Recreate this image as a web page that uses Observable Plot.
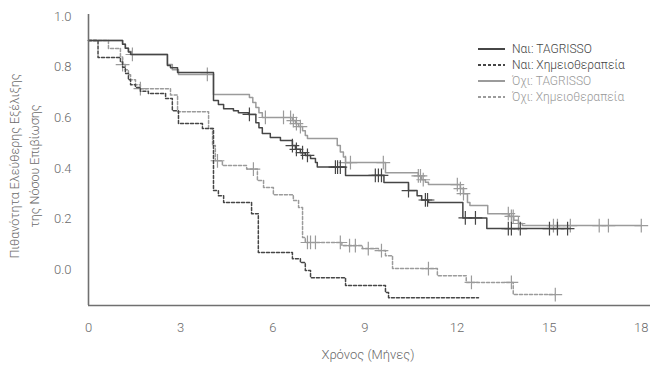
<!DOCTYPE html>
<html><head><meta charset="utf-8">
<script src="https://cdn.jsdelivr.net/npm/d3@7"></script>
<script src="https://cdn.jsdelivr.net/npm/@observablehq/plot@0.6"></script>
<style>
body{margin:0;background:#fff;font-family:Roboto,"DejaVu Sans",sans-serif;}
#wrap{position:relative;width:650px;height:365px;}
#legend{position:absolute;left:477px;top:41px;font-size:12px;font-weight:300;}
#legend .row{display:flex;align-items:center;height:16px;}
#legend svg{width:29px;height:16px;margin-right:6px;}
</style></head><body><div id="wrap"></div>
<script>
const xTicks = [0, 3, 6, 9, 12, 15, 18];
const yTicks = [0, 0.2, 0.4, 0.6, 0.8, 1.0];
const seriesNames = ["Ναι: TAGRISSO", "Ναι: Χημειοθεραπεία", "Όχι: TAGRISSO", "Όχι: Χημειοθεραπεία"];
const xTitle = "Χρόνος (Μήνες)";
const yTitle1 = "Πιθανότητα Ελεύθερης Εξέλιξης";
const yTitle2 = "της Νόσου Επιβίωσης";

// Ναι: TAGRISSO
const naiTagT = [0, 1.11, 1.20, 1.30, 1.37, 2.57, 2.67, 2.90, 4.07, 4.23, 4.40, 4.72, 4.88, 5.21, 5.45, 5.55, 5.66, 5.92, 6.25, 6.64, 6.74, 6.90, 7.06, 7.23, 7.39, 7.45, 8.37, 9.62, 10.42, 10.70, 10.85, 11.07, 12.19, 12.97, 15.69];
const naiTagS = [0.905, 0.89, 0.875, 0.86, 0.85, 0.806, 0.798, 0.779, 0.668, 0.652, 0.636, 0.628, 0.62, 0.613, 0.58, 0.56, 0.538, 0.522, 0.51, 0.49, 0.475, 0.462, 0.451, 0.439, 0.423, 0.405, 0.372, 0.344, 0.312, 0.292, 0.275, 0.265, 0.204, 0.162, 0.162];
const naiTagCens = [5.24, 6.64, 6.77, 6.97, 7.13, 8.04, 8.11, 8.20, 9.34, 9.44, 9.54, 10.42, 10.97, 11.04, 12.27, 12.60, 13.67, 13.77, 14.06, 15.01, 15.27, 15.60];

// Ναι: Χημειοθεραπεία
const naiChemoT = [0, 0.31, 1.04, 1.11, 1.20, 1.30, 1.37, 1.53, 1.69, 1.95, 2.51, 2.73, 2.93, 3.71, 4.07, 4.23, 4.40, 5.31, 5.53, 6.64, 6.90, 7.06, 7.23, 8.37, 9.67, 9.77, 12.70];
const naiChemoS = [0.905, 0.838, 0.82, 0.80, 0.775, 0.75, 0.73, 0.72, 0.705, 0.696, 0.676, 0.628, 0.577, 0.557, 0.312, 0.292, 0.265, 0.221, 0.067, 0.043, 0.028, -0.004, -0.032, -0.063, -0.091, -0.111, -0.111];
const naiChemoCens = [];

// Όχι: TAGRISSO
const ochiTagT = [0, 1.11, 1.20, 1.30, 1.40, 2.57, 2.73, 2.93, 4.07, 5.24, 5.35, 5.45, 5.55, 5.66, 6.64, 6.74, 6.84, 6.97, 7.06, 7.13, 8.10, 8.20, 8.30, 8.37, 9.67, 10.74, 10.85, 10.97, 11.07, 12.11, 12.21, 12.34, 12.42, 13.00, 13.70, 13.85, 14.00, 14.13, 18.0];
const ochiTagS = [0.905, 0.89, 0.875, 0.862, 0.85, 0.81, 0.79, 0.771, 0.692, 0.68, 0.66, 0.64, 0.62, 0.601, 0.589, 0.577, 0.565, 0.549, 0.53, 0.518, 0.49, 0.465, 0.445, 0.423, 0.383, 0.37, 0.355, 0.345, 0.336, 0.32, 0.30, 0.265, 0.253, 0.221, 0.21, 0.195, 0.182, 0.174, 0.174];
const ochiTagCens = [1.43, 3.87, 5.76, 6.35, 6.58, 6.67, 6.77, 6.90, 8.37, 8.53, 9.60, 10.74, 10.81, 10.90, 12.01, 12.11, 12.21, 13.67, 13.77, 13.83, 14.00, 15.14, 15.27, 15.69, 16.63, 16.93, 18.0];

// Όχι: Χημειοθεραπεία
const ochiChemoT = [0, 0.65, 1.04, 1.11, 1.20, 1.30, 1.37, 1.53, 1.69, 2.67, 2.90, 3.91, 4.04, 4.13, 4.36, 5.15, 5.50, 5.70, 6.02, 6.67, 6.84, 6.97, 7.06, 8.25, 8.92, 9.44, 9.67, 9.90, 11.36, 12.30, 13.83, 15.20];
const ochiChemoS = [0.905, 0.874, 0.84, 0.81, 0.79, 0.77, 0.75, 0.73, 0.715, 0.69, 0.624, 0.557, 0.49, 0.43, 0.411, 0.397, 0.352, 0.324, 0.296, 0.273, 0.245, 0.127, 0.107, 0.095, 0.083, 0.075, 0.055, 0.004, -0.024, -0.051, -0.099, -0.099];
const ochiChemoCens = [1.11, 1.69, 4.20, 5.37, 7.13, 7.23, 7.39, 8.20, 8.50, 8.69, 9.11, 9.54, 11.07, 12.47, 13.77, 15.20];

const dark = "#464646", light = "#9b9b9b", axisColor = "#707070", textColor = "#6a6a6a";
const yMin = -0.142, yMax = 1.008;

const series = [
  {name: seriesNames[2], T: ochiTagT, S: ochiTagS, C: ochiTagCens, color: light, dash: null},
  {name: seriesNames[3], T: ochiChemoT, S: ochiChemoS, C: ochiChemoCens, color: light, dash: "3,2"},
  {name: seriesNames[1], T: naiChemoT, S: naiChemoS, C: naiChemoCens, color: dark, dash: "3,2"},
  {name: seriesNames[0], T: naiTagT, S: naiTagS, C: naiTagCens, color: dark, dash: null}
];
function valueAt(T, S, t) { let v = S[0]; for (let i = 0; i < T.length; i++) if (T[i] <= t + 1e-9) v = S[i]; return v; }

const marks = [];
for (const s of series) {
  const rows = s.T.map((t, i) => ({t, v: s.S[i]}));
  marks.push(Plot.line(rows, {x: "t", y: "v", curve: "step-after", stroke: s.color, strokeWidth: 1.5, strokeDasharray: s.dash}));
  const cens = s.C.map(t => ({t, v: valueAt(s.T, s.S, t)}));
  marks.push(Plot.dot(cens, {x: "t", y: "v", symbol: "plus", r: 4.5, stroke: s.color, strokeWidth: 1.2}));
}
marks.push(Plot.ruleX([0], {stroke: axisColor, strokeWidth: 1.6}));
marks.push(Plot.ruleY([yMin], {stroke: axisColor, strokeWidth: 1.6}));

const chart = Plot.plot({
  width: 650, height: 365,
  marginLeft: 88, marginRight: 0, marginTop: 14, marginBottom: 60,
  style: {fontFamily: "Roboto, sans-serif", fontSize: "13px", color: textColor, background: "#fff"},
  x: {domain: [0, 18.3], ticks: xTicks, tickSize: 0, tickPadding: 17, label: null, tickFormat: d => String(d)},
  y: {domain: [yMin, yMax], ticks: yTicks, tickSize: 0, tickPadding: 17, label: null, tickFormat: d3.format(".1f")},
  marks
});
const wrap = document.getElementById("wrap");
wrap.appendChild(chart);
const svg = d3.select(chart);
svg.selectAll("g[aria-label*='axis'] text").attr("font-weight", 300);
svg.append("text").attr("x", 368).attr("y", 359).attr("text-anchor", "middle")
  .attr("fill", textColor).attr("font-size", 13).attr("font-weight", 300).text(xTitle);
[[yTitle1, 14], [yTitle2, 34]].forEach(([t, x]) => {
  svg.append("text").attr("transform", `translate(${x},166) rotate(-90)`).attr("text-anchor", "middle")
    .attr("dominant-baseline", "central").attr("fill", textColor).attr("font-size", 12.5).attr("font-weight", 300).text(t);
});

// legend
const legendOrder = [
  {name: seriesNames[0], color: dark, dash: null},
  {name: seriesNames[1], color: dark, dash: "3,2"},
  {name: seriesNames[2], color: light, dash: null},
  {name: seriesNames[3], color: light, dash: "3,2"}
];
const leg = document.createElement("div"); leg.id = "legend";
legendOrder.forEach(d => {
  const row = document.createElement("div"); row.className = "row";
  row.innerHTML = `<svg><line x1="1" x2="28" y1="8" y2="8" stroke="${d.color}" stroke-width="2" ${d.dash ? `stroke-dasharray="${d.dash}"` : ""}/></svg><span style="color:${d.color === dark ? "#444" : "#999"}">${d.name}</span>`;
  leg.appendChild(row);
});
wrap.appendChild(leg);
</script>
</body></html>
